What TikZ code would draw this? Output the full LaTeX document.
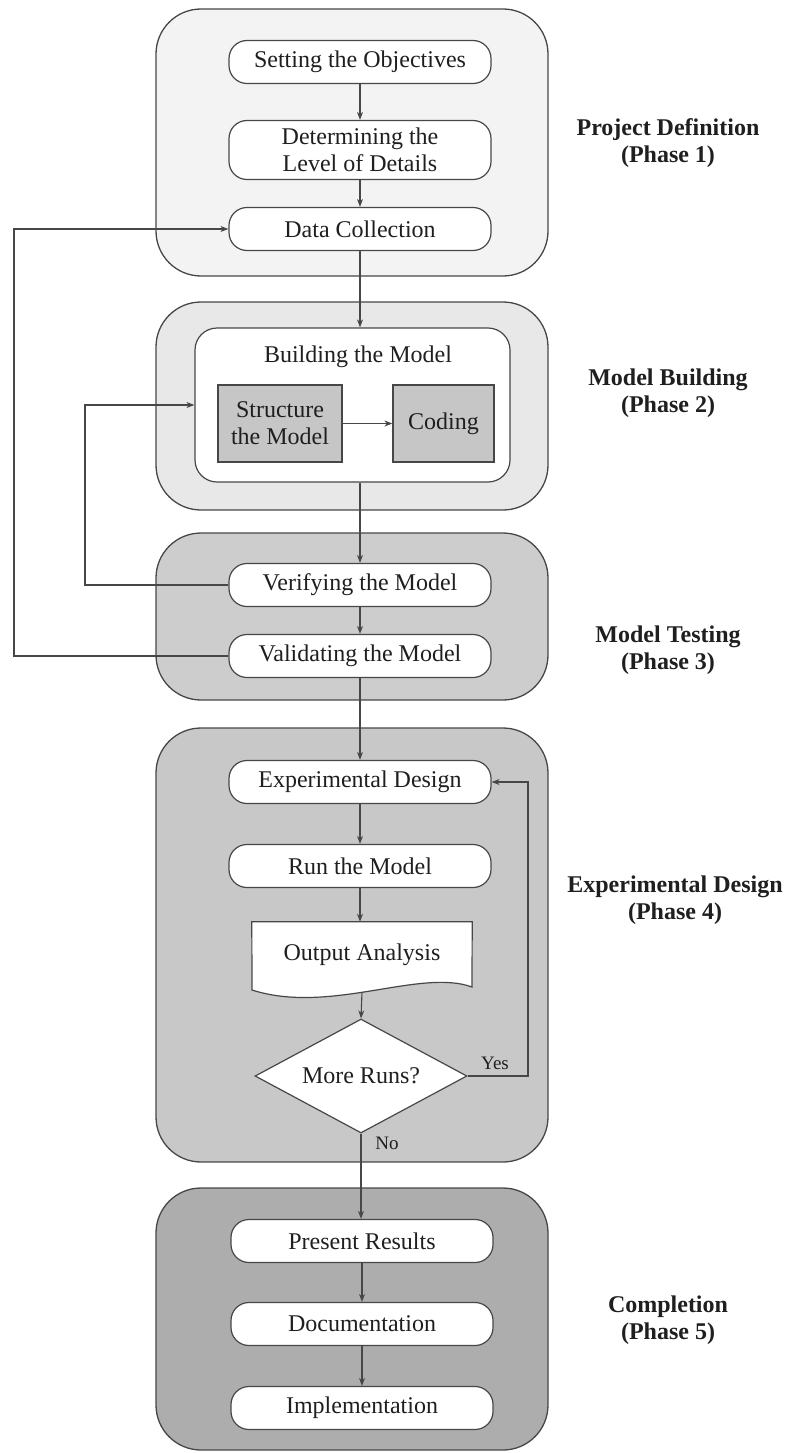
\documentclass[tikz,border=0pt]{standalone}
\usepackage{fontspec}
\setmainfont{Liberation Serif}
\usetikzlibrary{arrows.meta,shapes.geometric}
\definecolor{edge}{HTML}{474747}
\definecolor{phaseA}{HTML}{F3F3F3}
\definecolor{phaseB}{HTML}{E8E8E8}
\definecolor{phaseC}{HTML}{CDCDCD}
\definecolor{phaseD}{HTML}{C8C8C8}
\definecolor{phaseE}{HTML}{ADADAD}
\definecolor{boxgray}{HTML}{C6C6C6}
\begin{document}
\begin{tikzpicture}[x=1pt,y=-1pt,
  every node/.style={font=\fontsize{24}{27}\selectfont, text=black!88},
  phasebox/.style={draw=edge, line width=1.3pt, rounded corners=45pt, minimum width=392pt},
  stepbox/.style={draw=edge, fill=white, line width=1.2pt, rounded corners=18pt,
    minimum width=262pt, minimum height=43pt, inner sep=2pt, align=center},
  graybox/.style={draw=edge, fill=boxgray, line width=1.2pt, minimum height=77pt,
    align=center, inner sep=2pt},
  link/.style={draw=edge, line width=1.1pt, -{Stealth[length=8pt,width=6pt]}},
  phaselabel/.style={font=\bfseries\fontsize{24}{27}\selectfont, align=center},
  answer/.style={font=\fontsize{19}{21}\selectfont}
]
\useasboundingbox (0,0) rectangle (802,1453);

% phase containers
\node[phasebox, fill=phaseA, minimum height=267pt] (ph1) at (352,142.5) {};
\node[phasebox, fill=phaseB, minimum height=208pt] (ph2) at (352,406) {};
\node[phasebox, fill=phaseC, minimum height=167pt] (ph3) at (352,616.5) {};
\node[phasebox, fill=phaseD, minimum height=434pt] (ph4) at (352,945) {};
\node[phasebox, fill=phaseE, minimum height=262pt] (ph5) at (352,1319) {};

% phase 1
\node[stepbox] (obj) at (360,62) {Setting the Objectives};
\node[stepbox, minimum height=59pt] (det) at (360,150) {Determining the\\Level of Details};
\node[stepbox] (data) at (360,229) {Data Collection};

% phase 2
\node[draw=edge, fill=white, line width=1.2pt, rounded corners=22pt,
  minimum width=315pt, minimum height=154pt] (inner) at (352.5,405) {};
\node (build) at (358,357) {Building the Model};
\node[graybox, minimum width=124pt] (struct) at (280,423.5) {Structure\\the Model};
\node[graybox, minimum width=101pt] (coding) at (443.5,423.5) {Coding};

% phase 3
\node[stepbox] (verify) at (360,585) {Verifying the Model};
\node[stepbox] (valid) at (360,656) {Validating the Model};

% phase 4
\node[stepbox] (exp) at (360,782) {Experimental Design};
\node[stepbox] (run) at (360,866) {Run the Model};
\node[minimum width=220pt, minimum height=66pt] (out) at (362,955) {};
\fill[white] (out.north west) -- (out.north east) -- (472,987)
  .. controls (420,968) and (330,1015) .. (252,990) -- cycle;
\draw[edge, line width=1.2pt] (out.north west) -- (out.north east) -- (472,987)
  .. controls (420,968) and (330,1015) .. (252,990) -- cycle;
\node (outtext) at (362,955) {Output Analysis};
\coordinate (outbot) at (362,992);
\node[diamond, draw=edge, fill=white, line width=1.2pt, shape aspect=1.86,
  minimum width=212pt, minimum height=114pt, inner sep=1pt] (dec) at (361,1076) {More Runs?};

% phase 5
\node[stepbox] (present) at (362,1241) {Present Results};
\node[stepbox] (docu) at (362,1324) {Documentation};
\node[stepbox] (impl) at (362,1408) {Implementation};

% phase labels
\node[phaselabel] (l1) at (668,143) {Project Definition\\(Phase 1)};
\node[phaselabel] (l2) at (668,393) {Model Building\\(Phase 2)};
\node[phaselabel] (l3) at (668,650) {Model Testing\\(Phase 3)};
\node[phaselabel] (l4) at (675,900) {Experimental Design\\(Phase 4)};
\node[phaselabel] (l5) at (668,1320) {Completion\\(Phase 5)};

% main flow
\draw[link] (obj) -- (det);
\draw[link] (det) -- (data);
\draw[link] (data.south) -- (data.south |- inner.north);
\draw[link] (struct) -- (coding);
\draw[link] (inner.south -| verify.north) -- (verify.north);
\draw[link] (verify) -- (valid);
\draw[link] (valid) -- (exp);
\draw[link] (exp) -- (run);
\draw[link] (run.south) -- (run.south |- out.north);
\draw[link] (outbot) -- (dec.north);
\draw[link] (dec.south) -- (dec.south |- present.north);
\draw[link] (present) -- (docu);
\draw[link] (docu) -- (impl);

% decision loop
\coordinate (yesturn) at (528,1076);
\draw[link] (dec.east) -- (yesturn) |- (exp.east);
\node[answer] (yes) at (495,1063) {Yes};
\node[answer] (no) at (387,1143) {No};

% feedback loops on the left
\coordinate (innerturn) at (85,585);
\draw[link] (verify.west) -- (innerturn) |- (inner.west);
\coordinate (outerturn) at (14,656);
\draw[link] (valid.west) -- (outerturn) |- (data.west);
\end{tikzpicture}
\end{document}
